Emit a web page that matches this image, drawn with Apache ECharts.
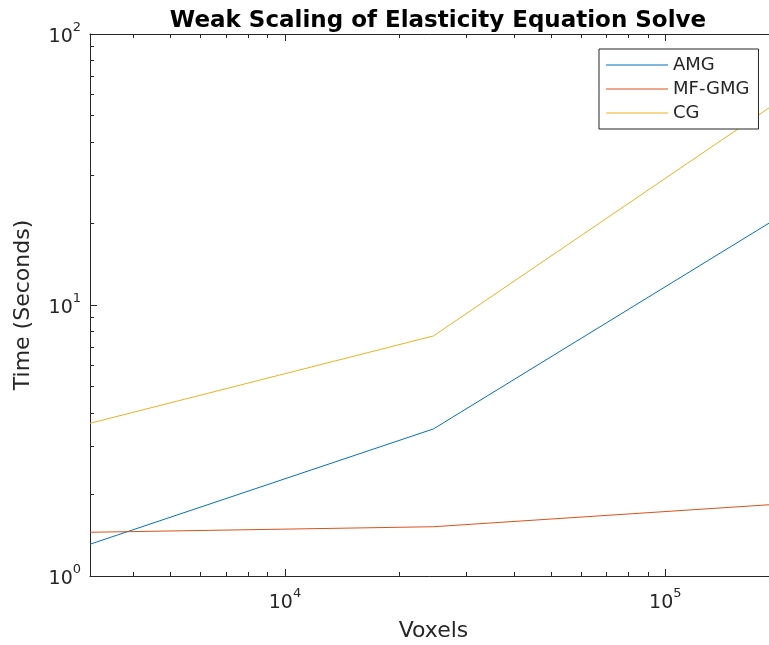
<!DOCTYPE html>
<html>
<head>
<meta charset="utf-8">
<script src="https://cdn.jsdelivr.net/npm/echarts@6/dist/echarts.min.js"></script>
<style>
  html, body { margin: 0; padding: 0; background: #fff; }
  #chart { width: 769px; height: 645px; }
</style>
</head>
<body>
<div id="chart"></div>
<script>
// Problem sizes (voxels) and solve times (seconds)
const voxels = [3072, 24576, 196608];
const amg = [1.31, 3.49, 20.9];
const mfgmg = [1.45, 1.52, 1.84];
const cg = [3.66, 7.69, 55.9];

const seriesNames = ['AMG', 'MF-GMG', 'CG'];
const seriesColors = ['#0072BD', '#D95319', '#EDB120'];

// Tick positions for the log axes
const xMajorTicks = [1e4, 1e5];
const xMinorTicks = [4000, 5000, 6000, 7000, 8000, 9000,
  20000, 30000, 40000, 50000, 60000, 70000, 80000, 90000];
const yMajorTicks = [1, 10, 100];
const yMinorTicks = [2, 3, 4, 5, 6, 7, 8, 9, 20, 30, 40, 50, 60, 70, 80, 90];

const xRange = { min: voxels[0], max: voxels[voxels.length - 1] };
const yRange = { min: 1, max: 100 };

const axisColor = '#262626';
const fontFamily = 'DejaVu Sans';

function powLabel(v) {
  const e = Math.round(Math.log10(v));
  return '{b|10}{s|' + e + '}';
}
const powRich = {
  b: { fontSize: 19, color: axisColor, fontFamily: fontFamily, lineHeight: 26, verticalAlign: 'bottom' },
  s: { fontSize: 13, color: axisColor, fontFamily: fontFamily, lineHeight: 26, verticalAlign: 'top', padding: [0, 0, 8, 0] }
};

function logAxis(range, extra) {
  return Object.assign({
    type: 'log',
    logBase: 10,
    min: range.min,
    max: range.max,
    splitLine: { show: false },
    axisLine: { show: false },
    axisTick: { show: false },
    axisLabel: { show: false }
  }, range, extra);
}

const chart = echarts.init(document.getElementById('chart'), null, { renderer: 'canvas' });

chart.setOption({
  animation: false,
  backgroundColor: '#fff',
  title: {
    text: 'Weak Scaling of Elasticity Equation Solve',
    left: 433,
    top: 5,
    textAlign: 'center',
    textStyle: { fontFamily: fontFamily, fontSize: 23, fontWeight: 'bold', color: '#000' }
  },
  // the plot box runs slightly past the right edge of the canvas
  grid: { left: 90, top: 34, width: 687, height: 542, containLabel: false, outerBoundsMode: 'none' },
  legend: {
    orient: 'vertical',
    left: 599,
    top: 49,
    padding: [6, 9, 6, 7],
    itemGap: 4,
    itemWidth: 62,
    itemHeight: 1,
    icon: 'rect',
    borderColor: axisColor,
    borderWidth: 1,
    backgroundColor: '#fff',
    textStyle: { fontFamily: fontFamily, fontSize: 18, color: axisColor, lineHeight: 20, padding: [0, 0, 0, 0] },
    data: seriesNames
  },
  xAxis: [
    // bottom: line, major ticks, labels, name
    logAxis(xRange, {
      position: 'bottom',
      axisLine: { show: true, lineStyle: { color: axisColor, width: 1 } },
      axisTick: { show: true, inside: true, length: 7, customValues: xMajorTicks, lineStyle: { color: axisColor } },
      axisLabel: { show: true, customValues: xMajorTicks, formatter: powLabel, rich: powRich, margin: 11 },
      name: 'Voxels',
      nameLocation: 'middle',
      nameGap: 44,
      nameTextStyle: { fontFamily: fontFamily, fontSize: 22, color: axisColor }
    }),
    // bottom: minor ticks
    logAxis(xRange, {
      position: 'bottom',
      axisTick: { show: true, inside: true, length: 4, customValues: xMinorTicks, lineStyle: { color: axisColor } }
    }),
    // top: box line and major ticks
    logAxis(xRange, {
      position: 'top',
      axisLine: { show: true, lineStyle: { color: axisColor, width: 1 } },
      axisTick: { show: true, inside: true, length: 7, customValues: xMajorTicks, lineStyle: { color: axisColor } }
    }),
    // top: minor ticks
    logAxis(xRange, {
      position: 'top',
      axisTick: { show: true, inside: true, length: 4, customValues: xMinorTicks, lineStyle: { color: axisColor } }
    })
  ],
  yAxis: [
    logAxis(yRange, {
      position: 'left',
      axisLine: { show: true, lineStyle: { color: axisColor, width: 1 } },
      axisTick: { show: true, inside: true, length: 7, customValues: yMajorTicks, lineStyle: { color: axisColor } },
      axisLabel: { show: true, customValues: yMajorTicks, formatter: powLabel, rich: powRich, margin: 9 },
      name: 'Time (Seconds)',
      nameLocation: 'middle',
      nameGap: 56,
      nameTextStyle: { fontFamily: fontFamily, fontSize: 22, color: axisColor }
    }),
    logAxis(yRange, {
      position: 'left',
      axisTick: { show: true, inside: true, length: 4, customValues: yMinorTicks, lineStyle: { color: axisColor } }
    })
  ],
  series: [
    { name: seriesNames[0], data: voxels.map((v, i) => [v, amg[i]]) },
    { name: seriesNames[1], data: voxels.map((v, i) => [v, mfgmg[i]]) },
    { name: seriesNames[2], data: voxels.map((v, i) => [v, cg[i]]) }
  ].map((s, i) => ({
    type: 'line',
    name: s.name,
    data: s.data,
    xAxisIndex: 0,
    yAxisIndex: 0,
    showSymbol: false,
    symbol: 'none',
    clip: true,
    color: seriesColors[i],
    lineStyle: { color: seriesColors[i], width: 1 }
  }))
});
</script>
</body>
</html>
